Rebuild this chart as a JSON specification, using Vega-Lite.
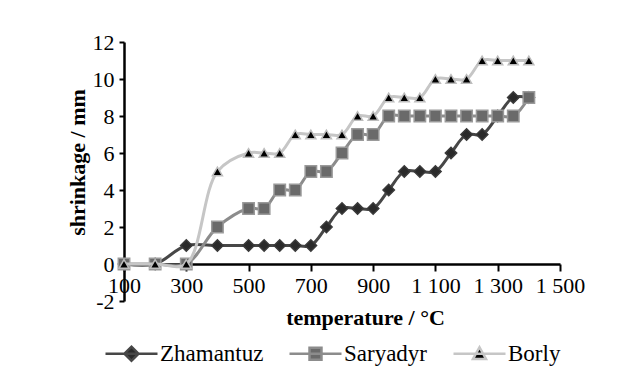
{
  "$schema": "https://vega.github.io/schema/vega-lite/v6.json",
  "width": 436,
  "height": 259,
  "autosize": {"type": "none"},
  "padding": {"left": 124, "top": 42, "right": 57, "bottom": 75},
  "background": "white",
  "config": {
    "view": {"stroke": null},
    "font": "Liberation Serif",
    "legend": {"labelFont": "Liberation Serif", "labelFontSize": 23, "labelColor": "black"}
  },
  "data": {
    "values": [
      {"series": "Zhamantuz", "temperature": 100, "shrinkage": 0},
      {"series": "Zhamantuz", "temperature": 200, "shrinkage": 0},
      {"series": "Zhamantuz", "temperature": 300, "shrinkage": 1},
      {"series": "Zhamantuz", "temperature": 400, "shrinkage": 1},
      {"series": "Zhamantuz", "temperature": 500, "shrinkage": 1},
      {"series": "Zhamantuz", "temperature": 550, "shrinkage": 1},
      {"series": "Zhamantuz", "temperature": 600, "shrinkage": 1},
      {"series": "Zhamantuz", "temperature": 650, "shrinkage": 1},
      {"series": "Zhamantuz", "temperature": 700, "shrinkage": 1},
      {"series": "Zhamantuz", "temperature": 750, "shrinkage": 2},
      {"series": "Zhamantuz", "temperature": 800, "shrinkage": 3},
      {"series": "Zhamantuz", "temperature": 850, "shrinkage": 3},
      {"series": "Zhamantuz", "temperature": 900, "shrinkage": 3},
      {"series": "Zhamantuz", "temperature": 950, "shrinkage": 4},
      {"series": "Zhamantuz", "temperature": 1000, "shrinkage": 5},
      {"series": "Zhamantuz", "temperature": 1050, "shrinkage": 5},
      {"series": "Zhamantuz", "temperature": 1100, "shrinkage": 5},
      {"series": "Zhamantuz", "temperature": 1150, "shrinkage": 6},
      {"series": "Zhamantuz", "temperature": 1200, "shrinkage": 7},
      {"series": "Zhamantuz", "temperature": 1250, "shrinkage": 7},
      {"series": "Zhamantuz", "temperature": 1300, "shrinkage": 8},
      {"series": "Zhamantuz", "temperature": 1350, "shrinkage": 9},
      {"series": "Zhamantuz", "temperature": 1400, "shrinkage": 9},
      {"series": "Saryadyr", "temperature": 100, "shrinkage": 0},
      {"series": "Saryadyr", "temperature": 200, "shrinkage": 0},
      {"series": "Saryadyr", "temperature": 300, "shrinkage": 0},
      {"series": "Saryadyr", "temperature": 400, "shrinkage": 2},
      {"series": "Saryadyr", "temperature": 500, "shrinkage": 3},
      {"series": "Saryadyr", "temperature": 550, "shrinkage": 3},
      {"series": "Saryadyr", "temperature": 600, "shrinkage": 4},
      {"series": "Saryadyr", "temperature": 650, "shrinkage": 4},
      {"series": "Saryadyr", "temperature": 700, "shrinkage": 5},
      {"series": "Saryadyr", "temperature": 750, "shrinkage": 5},
      {"series": "Saryadyr", "temperature": 800, "shrinkage": 6},
      {"series": "Saryadyr", "temperature": 850, "shrinkage": 7},
      {"series": "Saryadyr", "temperature": 900, "shrinkage": 7},
      {"series": "Saryadyr", "temperature": 950, "shrinkage": 8},
      {"series": "Saryadyr", "temperature": 1000, "shrinkage": 8},
      {"series": "Saryadyr", "temperature": 1050, "shrinkage": 8},
      {"series": "Saryadyr", "temperature": 1100, "shrinkage": 8},
      {"series": "Saryadyr", "temperature": 1150, "shrinkage": 8},
      {"series": "Saryadyr", "temperature": 1200, "shrinkage": 8},
      {"series": "Saryadyr", "temperature": 1250, "shrinkage": 8},
      {"series": "Saryadyr", "temperature": 1300, "shrinkage": 8},
      {"series": "Saryadyr", "temperature": 1350, "shrinkage": 8},
      {"series": "Saryadyr", "temperature": 1400, "shrinkage": 9},
      {"series": "Borly", "temperature": 100, "shrinkage": 0},
      {"series": "Borly", "temperature": 200, "shrinkage": 0},
      {"series": "Borly", "temperature": 300, "shrinkage": 0},
      {"series": "Borly", "temperature": 400, "shrinkage": 5},
      {"series": "Borly", "temperature": 500, "shrinkage": 6},
      {"series": "Borly", "temperature": 550, "shrinkage": 6},
      {"series": "Borly", "temperature": 600, "shrinkage": 6},
      {"series": "Borly", "temperature": 650, "shrinkage": 7},
      {"series": "Borly", "temperature": 700, "shrinkage": 7},
      {"series": "Borly", "temperature": 750, "shrinkage": 7},
      {"series": "Borly", "temperature": 800, "shrinkage": 7},
      {"series": "Borly", "temperature": 850, "shrinkage": 8},
      {"series": "Borly", "temperature": 900, "shrinkage": 8},
      {"series": "Borly", "temperature": 950, "shrinkage": 9},
      {"series": "Borly", "temperature": 1000, "shrinkage": 9},
      {"series": "Borly", "temperature": 1050, "shrinkage": 9},
      {"series": "Borly", "temperature": 1100, "shrinkage": 10},
      {"series": "Borly", "temperature": 1150, "shrinkage": 10},
      {"series": "Borly", "temperature": 1200, "shrinkage": 10},
      {"series": "Borly", "temperature": 1250, "shrinkage": 11},
      {"series": "Borly", "temperature": 1300, "shrinkage": 11},
      {"series": "Borly", "temperature": 1350, "shrinkage": 11},
      {"series": "Borly", "temperature": 1400, "shrinkage": 11}
    ]
  },
  "encoding": {
    "x": {
      "field": "temperature",
      "type": "quantitative",
      "scale": {"domain": [100, 1500], "nice": false, "zero": false},
      "axis": {
        "values": [100, 300, 500, 700, 900, 1100, 1300, 1500],
        "labelExpr": "datum.value >= 1000 ? replace(format(datum.value, ','), ',', ' ') : datum.label",
        "offset": -37,
        "grid": false,
        "domainColor": "black",
        "domainWidth": 2.5,
        "tickColor": "black",
        "tickWidth": 2,
        "tickSize": 7,
        "labelFont": "Liberation Serif",
        "labelFontSize": 22,
        "labelColor": "black",
        "labelPadding": 4,
        "labelFlush": false,
        "labelOverlap": false,
        "title": "temperature / °C",
        "titleFont": "Liberation Serif",
        "titleFontSize": 22,
        "titleFontWeight": "bold",
        "titleColor": "black",
        "titlePadding": 11,
        "titleX": 241
      }
    },
    "y": {
      "field": "shrinkage",
      "type": "quantitative",
      "scale": {"domain": [-2, 12], "nice": false},
      "axis": {
        "values": [-2, 0, 2, 4, 6, 8, 10, 12],
        "labelExpr": "datum.value < 0 ? '-' + abs(datum.value) : datum.label",
        "grid": false,
        "domainColor": "black",
        "domainWidth": 2.5,
        "tickColor": "black",
        "tickWidth": 2,
        "tickSize": 5,
        "labelFont": "Liberation Serif",
        "labelFontSize": 22,
        "labelColor": "black",
        "labelPadding": 5,
        "title": "shrinkage / mm",
        "titleFont": "Liberation Serif",
        "titleFontSize": 22,
        "titleFontWeight": "bold",
        "titleColor": "black",
        "titleBaseline": "middle",
        "titleX": -47,
        "titleY": 120
      }
    },
    "color": {
      "field": "series",
      "type": "nominal",
      "scale": {"domain": ["Zhamantuz", "Saryadyr", "Borly"], "range": ["#474747", "#8c8c8c", "#c6c6c6"]},
      "legend": {
        "orient": "none",
        "legendX": -20,
        "legendY": 284,
        "direction": "horizontal",
        "title": null,
        "padding": 0,
        "labelFont": "Liberation Serif",
        "labelFontSize": 23,
        "labelColor": "black",
        "labelOffset": 1,
        "columnPadding": 20,
        "symbolSize": 2704,
        "symbolStrokeWidth": 2.5,
        "symbolOpacity": 1,
        "encode": {
          "symbols": {
            "update": {
              "shape": {"signal": "datum.value === 'Zhamantuz' ? 'M-1,0H1M-0.27,0L0,-0.27L0.27,0L0,0.27Z' : datum.value === 'Saryadyr' ? 'M-1,0H1M-0.23,-0.23H0.23V0.23H-0.23Z' : 'M-1,0H1M-0.25,0.2L0,-0.25L0.25,0.2Z'"},
              "fill": {"signal": "datum.value === 'Zhamantuz' ? '#2a2a2a' : datum.value === 'Saryadyr' ? '#6a6a6a' : '#000000'"},
              "fillOpacity": {"value": 1}
            }
          }
        }
      }
    }
  },
  "layer": [
    {
      "transform": [{"filter": "datum.series === 'Zhamantuz'"}],
      "mark": {"type": "line", "interpolate": "catmull-rom", "strokeWidth": 3}
    },
    {
      "transform": [{"filter": "datum.series === 'Zhamantuz'"}],
      "mark": {"type": "point", "shape": "diamond", "filled": true, "opacity": 1, "size": 130, "fill": "#2a2a2a", "stroke": "#3a3a3a", "strokeWidth": 1.5},
      "encoding": {"color": {"value": "#2a2a2a"}}
    },
    {
      "transform": [{"filter": "datum.series === 'Saryadyr'"}],
      "mark": {"type": "line", "interpolate": "catmull-rom", "strokeWidth": 3}
    },
    {
      "transform": [{"filter": "datum.series === 'Saryadyr'"}],
      "mark": {"type": "point", "shape": "square", "filled": true, "opacity": 1, "size": 130, "fill": "#6a6a6a", "stroke": "#9a9a9a", "strokeWidth": 1.5},
      "encoding": {"color": {"value": "#6a6a6a"}}
    },
    {
      "transform": [{"filter": "datum.series === 'Borly'"}],
      "mark": {"type": "line", "interpolate": "catmull-rom", "strokeWidth": 3}
    },
    {
      "transform": [{"filter": "datum.series === 'Borly'"}],
      "mark": {"type": "point", "shape": "triangle-up", "filled": true, "opacity": 1, "size": 100, "fill": "#000000", "stroke": "#bdbdbd", "strokeWidth": 1.5},
      "encoding": {"color": {"value": "#000000"}}
    }
  ]
}
